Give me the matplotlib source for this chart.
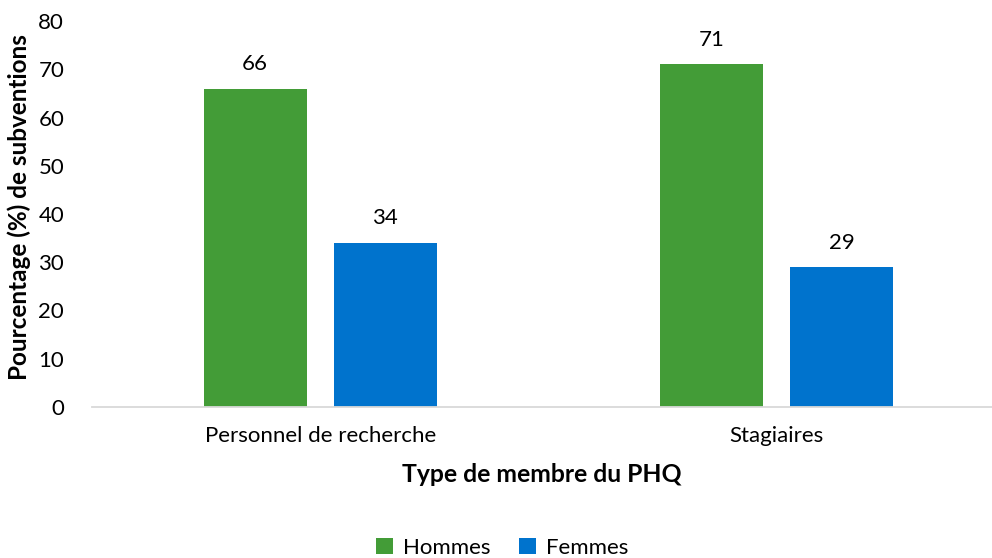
import matplotlib
matplotlib.use("Agg")
import matplotlib.pyplot as plt
import numpy as np

categories = ["Personnel de recherche", "Stagiaires"]
hommes = [66, 71]
femmes = [34, 29]
series_names = ["Hommes", "Femmes"]
colors = ["#439C37", "#0073CD"]

plt.rcParams['font.family'] = ['Lato', 'DejaVu Sans']

fig = plt.figure(figsize=(9.92, 5.58), dpi=100)
ax = fig.add_axes([92/992, (558-407)/558, 900/992, 386/558])

x = np.arange(len(categories))
w = 0.226
off = 0.1425
b1 = ax.bar(x - off, hommes, w, color=colors[0], label=series_names[0])
b2 = ax.bar(x + off, femmes, w, color=colors[1], label=series_names[1])
for bars, vals in ((b1, hommes), (b2, femmes)):
    for r, v in zip(bars, vals):
        ax.text(r.get_x() + r.get_width()/2, v + 3.0, str(v), ha='center', va='bottom',
                fontsize=16, color='#000000')

ax.set_xlim(-0.5, 1.4726)
ax.set_ylim(0, 80)
ax.set_yticks(range(0, 81, 10))
ax.set_xticks(x)
ax.set_xticklabels(categories)
ax.tick_params(axis='both', length=0, labelsize=16, colors='#000000')
ax.tick_params(axis='y', pad=20)
ax.tick_params(axis='x', pad=14)
for s in ['top', 'right', 'left']:
    ax.spines[s].set_visible(False)
ax.spines['bottom'].set_color('#D9D9D9')
ax.spines['bottom'].set_linewidth(1.3)

ax.set_ylabel("Pourcentage (%) de subventions", fontsize=17.5, fontweight='bold')
ax.yaxis.set_label_coords(-(92 - 31) / 900, 0.519)
ax.set_xlabel("Type de membre du PHQ", fontsize=17.8, fontweight='bold', labelpad=12)

fig.legend(loc='center', bbox_to_anchor=(0.506, 1 - 548/558), ncol=2, frameon=False,
           fontsize=16, handlelength=0.75, handleheight=0.75, handletextpad=0.45, columnspacing=1.3)

fig.savefig("out.png", dpi=100)
